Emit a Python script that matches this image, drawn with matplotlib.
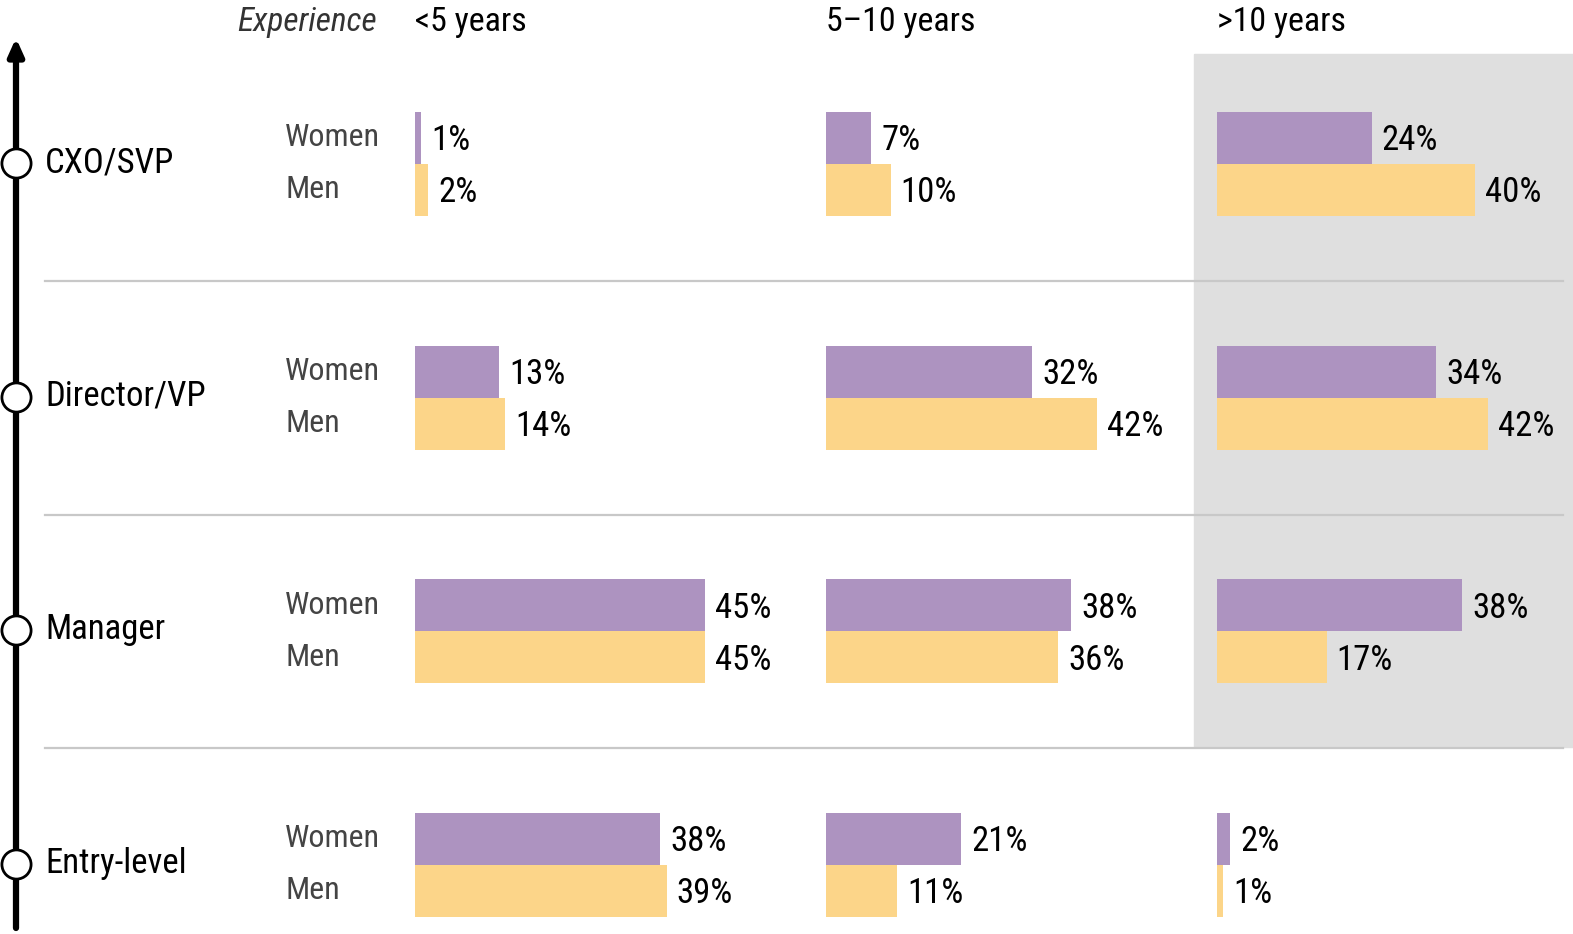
import numpy as np
import matplotlib
matplotlib.use("Agg")
import matplotlib.pyplot as plt
from matplotlib import font_manager

levels = ["CXO/SVP", "Director/VP", "Manager", "Entry-level"]
experience = ["<5 years", "5\u201310 years", ">10 years"]
genders = ["Women", "Men"]

# rows = level, columns = experience band
women = np.array([[1, 7, 24],
                  [13, 32, 34],
                  [45, 38, 38],
                  [38, 21, 2]])
men = np.array([[2, 10, 40],
                [14, 42, 42],
                [45, 36, 17],
                [39, 11, 1]])

PURPLE = "#ad93c0"
YELLOW = "#fcd589"

# pick a condensed face if one is around
names = {f.name for f in font_manager.fontManager.ttflist}
family = "Roboto"
for cand in ["Roboto Condensed", "Liberation Sans Narrow", "Roboto"]:
    if cand in names:
        family = cand
        break
plt.rcParams["font.family"] = [family, "DejaVu Sans"]

W, H = 1573, 934
fig = plt.figure(figsize=(W / 100, H / 100), dpi=100)
ax = fig.add_axes([0, 0, 1, 1])
ax.set_xlim(0, W)
ax.set_ylim(H, 0)
ax.axis("off")

px_per_pct = 6.45
col_x = [415, 826, 1217]
row_top = 112
row_step = 233.5
bar_h = 52

# grey highlight behind the >10 years column
ax.add_patch(plt.Rectangle((1194, 54), W - 1194, 747 - 54, color="#dfdfdf", zorder=0))

# separators between levels
for i in range(1, len(levels)):
    y = row_top + i * row_step - 64.5
    ax.plot([45, 1563], [y, y], color="#c8c8c8", lw=1.6, zorder=1)

# headers
ax.text(377, 22, "Experience", ha="right", va="center", fontsize=24,
        style="italic", color="#333333")
for j, lab in enumerate(experience):
    ax.text(col_x[j], 22, lab, ha="left", va="center", fontsize=24.5,
            color="black")

# seniority axis
ax.annotate("", xy=(16, 38), xytext=(16, 928),
            arrowprops=dict(arrowstyle="-|>,head_width=0.45,head_length=1.0",
                            lw=4.5, color="black", shrinkA=0, shrinkB=0))

for i, lev in enumerate(levels):
    top = row_top + i * row_step
    mid = top + bar_h
    ax.plot(16, mid - 1, "o", ms=21, mfc="white", mec="black", mew=2, zorder=5)
    ax.text(45, mid - 1, lev, ha="left", va="center", fontsize=25, color="black")
    ax.text(285, top + bar_h / 2, genders[0], ha="left", va="center",
            fontsize=23, color="#444444")
    ax.text(285, top + bar_h * 1.5, genders[1], ha="left", va="center",
            fontsize=23, color="#444444")
    for j in range(len(experience)):
        wv = women[i, j]
        mv = men[i, j]
        ax.barh(top + bar_h / 2, wv * px_per_pct, height=bar_h, left=col_x[j],
                color=PURPLE, zorder=3)
        ax.barh(top + bar_h * 1.5, mv * px_per_pct, height=bar_h, left=col_x[j],
                color=YELLOW, zorder=3)
        ax.text(col_x[j] + wv * px_per_pct + 10, top + bar_h / 2 + 3, f"{wv}%",
                ha="left", va="center", fontsize=25, color="black", zorder=4)
        ax.text(col_x[j] + mv * px_per_pct + 10, top + bar_h * 1.5 + 3, f"{mv}%",
                ha="left", va="center", fontsize=25, color="black", zorder=4)

fig.savefig("out.png", dpi=100)
